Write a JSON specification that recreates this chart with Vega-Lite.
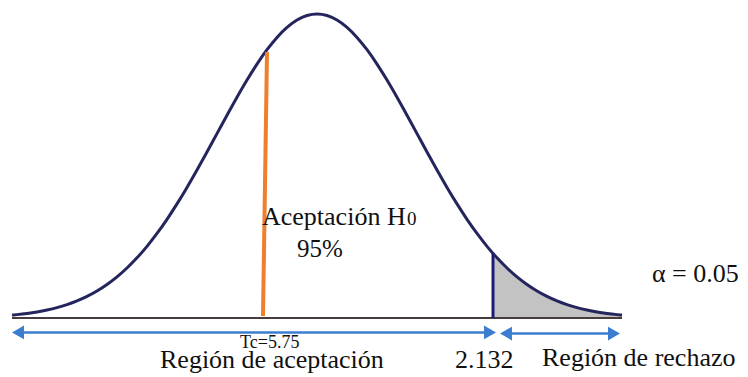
{
  "$schema": "https://vega.github.io/schema/vega-lite/v6.json",
  "width": 748,
  "height": 377,
  "autosize": {"type": "fit", "contains": "padding"},
  "padding": 0,
  "background": "white",
  "config": {"view": {"stroke": null}},
  "datasets": {
    "curve": [
      {"x": -3.05, "y": 0.00381}, {"x": -3.0, "y": 0.00443}, {"x": -2.9, "y": 0.00595}, {"x": -2.8, "y": 0.00792},
      {"x": -2.7, "y": 0.01042}, {"x": -2.6, "y": 0.01358}, {"x": -2.5, "y": 0.01753}, {"x": -2.4, "y": 0.02239},
      {"x": -2.3, "y": 0.02833}, {"x": -2.2, "y": 0.03547}, {"x": -2.1, "y": 0.04398}, {"x": -2.0, "y": 0.05399},
      {"x": -1.9, "y": 0.06562}, {"x": -1.8, "y": 0.07895}, {"x": -1.7, "y": 0.09405}, {"x": -1.6, "y": 0.11092},
      {"x": -1.5, "y": 0.12952}, {"x": -1.4, "y": 0.14973}, {"x": -1.3, "y": 0.17137}, {"x": -1.2, "y": 0.19419},
      {"x": -1.1, "y": 0.21785}, {"x": -1.0, "y": 0.24197}, {"x": -0.9, "y": 0.26609}, {"x": -0.8, "y": 0.28969},
      {"x": -0.7, "y": 0.31225}, {"x": -0.6, "y": 0.33322}, {"x": -0.5, "y": 0.35207}, {"x": -0.4, "y": 0.36827},
      {"x": -0.3, "y": 0.38139}, {"x": -0.2, "y": 0.39104}, {"x": -0.1, "y": 0.39695}, {"x": 0.0, "y": 0.39894},
      {"x": 0.1, "y": 0.39695}, {"x": 0.2, "y": 0.39104}, {"x": 0.3, "y": 0.38139}, {"x": 0.4, "y": 0.36827},
      {"x": 0.5, "y": 0.35207}, {"x": 0.6, "y": 0.33322}, {"x": 0.7, "y": 0.31225}, {"x": 0.8, "y": 0.28969},
      {"x": 0.9, "y": 0.26609}, {"x": 1.0, "y": 0.24197}, {"x": 1.1, "y": 0.21785}, {"x": 1.2, "y": 0.19419},
      {"x": 1.3, "y": 0.17137}, {"x": 1.4, "y": 0.14973}, {"x": 1.5, "y": 0.12952}, {"x": 1.6, "y": 0.11092},
      {"x": 1.7, "y": 0.09405}, {"x": 1.8, "y": 0.07895}, {"x": 1.9, "y": 0.06562}, {"x": 2.0, "y": 0.05399},
      {"x": 2.1, "y": 0.04398}, {"x": 2.2, "y": 0.03547}, {"x": 2.3, "y": 0.02833}, {"x": 2.4, "y": 0.02239},
      {"x": 2.5, "y": 0.01753}, {"x": 2.6, "y": 0.01358}, {"x": 2.7, "y": 0.01042}, {"x": 2.8, "y": 0.00792},
      {"x": 2.9, "y": 0.00595}, {"x": 3.0, "y": 0.00443}, {"x": 3.05, "y": 0.00381}
    ],
    "tail": [
      {"x": 1.76, "y": 0.08478}, {"x": 1.8, "y": 0.07895}, {"x": 1.9, "y": 0.06562}, {"x": 2.0, "y": 0.05399},
      {"x": 2.1, "y": 0.04398}, {"x": 2.2, "y": 0.03547}, {"x": 2.3, "y": 0.02833}, {"x": 2.4, "y": 0.02239},
      {"x": 2.5, "y": 0.01753}, {"x": 2.6, "y": 0.01358}, {"x": 2.7, "y": 0.01042}, {"x": 2.8, "y": 0.00792},
      {"x": 2.9, "y": 0.00595}, {"x": 3.0, "y": 0.00443}, {"x": 3.05, "y": 0.00381}
    ],
    "baseline": [{"x": -3.05, "y": 0}, {"x": 3.05, "y": 0}],
    "critical": [{"x": 1.76, "y": 0, "y2": 0.0848}],
    "tc": [{"x": -0.54, "y": 0.0026, "x2": -0.50, "y2": 0.349}],
    "arrows": [
      {"x": -3.0, "x2": 1.74, "y": -0.0190},
      {"x": 1.88, "x2": 2.98, "y": -0.0205}
    ],
    "heads": [
      {"x": -2.99, "y": -0.0190, "shape": "triangle-left"},
      {"x": 1.73, "y": -0.0190, "shape": "triangle-right"},
      {"x": 1.89, "y": -0.0205, "shape": "triangle-left"},
      {"x": 2.97, "y": -0.0205, "shape": "triangle-right"}
    ],
    "labels": [
      {"x": -0.55, "y": 0.122, "text": "Aceptación H", "size": 26},
      {"x": 0.9, "y": 0.122, "text": "0", "size": 19},
      {"x": -0.2, "y": 0.0801, "text": "95%", "size": 25},
      {"x": -0.77, "y": -0.0394, "text": "Tc=5.75", "size": 18},
      {"x": -1.57, "y": -0.0656, "text": "Región de aceptación", "size": 26},
      {"x": 1.38, "y": -0.0656, "text": "2.132", "size": 26},
      {"x": 2.25, "y": -0.063, "text": "Región de rechazo", "size": 26},
      {"x": 3.35, "y": 0.0472, "text": "α = 0.05", "size": 26}
    ]
  },
  "encoding": {
    "x": {"field": "x", "type": "quantitative", "scale": {"domain": [-3.17, 4.31], "nice": false, "zero": false}, "axis": null},
    "y": {"field": "y", "type": "quantitative", "scale": {"domain": [-0.07743, 0.41732], "nice": false, "zero": false}, "axis": null}
  },
  "layer": [
    {
      "data": {"name": "tail"},
      "mark": {"type": "area", "color": "#c3c3c3", "interpolate": "monotone"},
      "encoding": {"y2": {"datum": 0}}
    },
    {
      "data": {"name": "curve"},
      "mark": {"type": "line", "color": "#25255e", "strokeWidth": 3, "interpolate": "monotone"},
      "encoding": {}
    },
    {
      "data": {"name": "baseline"},
      "mark": {"type": "line", "color": "#4a3c3c", "strokeWidth": 2},
      "encoding": {}
    },
    {
      "data": {"name": "critical"},
      "mark": {"type": "rule", "color": "#1c1c78", "strokeWidth": 3},
      "encoding": {"y2": {"field": "y2"}}
    },
    {
      "data": {"name": "tc"},
      "mark": {"type": "rule", "color": "#f07f2c", "strokeWidth": 4},
      "encoding": {"x2": {"field": "x2"}, "y2": {"field": "y2"}}
    },
    {
      "data": {"name": "arrows"},
      "mark": {"type": "rule", "color": "#3b7dd0", "strokeWidth": 2.5},
      "encoding": {"x2": {"field": "x2"}}
    },
    {
      "data": {"name": "heads"},
      "mark": {"type": "point", "filled": true, "color": "#3b7dd0", "opacity": 1, "size": 190},
      "encoding": {"shape": {"field": "shape", "type": "nominal", "scale": null}}
    },
    {
      "data": {"name": "labels"},
      "mark": {"type": "text", "align": "left", "baseline": "alphabetic", "font": "'Liberation Serif', 'Times New Roman', 'DejaVu Serif', serif", "color": "#111111"},
      "encoding": {
        "text": {"field": "text"},
        "size": {"field": "size", "type": "quantitative", "scale": null}
      }
    }
  ]
}
